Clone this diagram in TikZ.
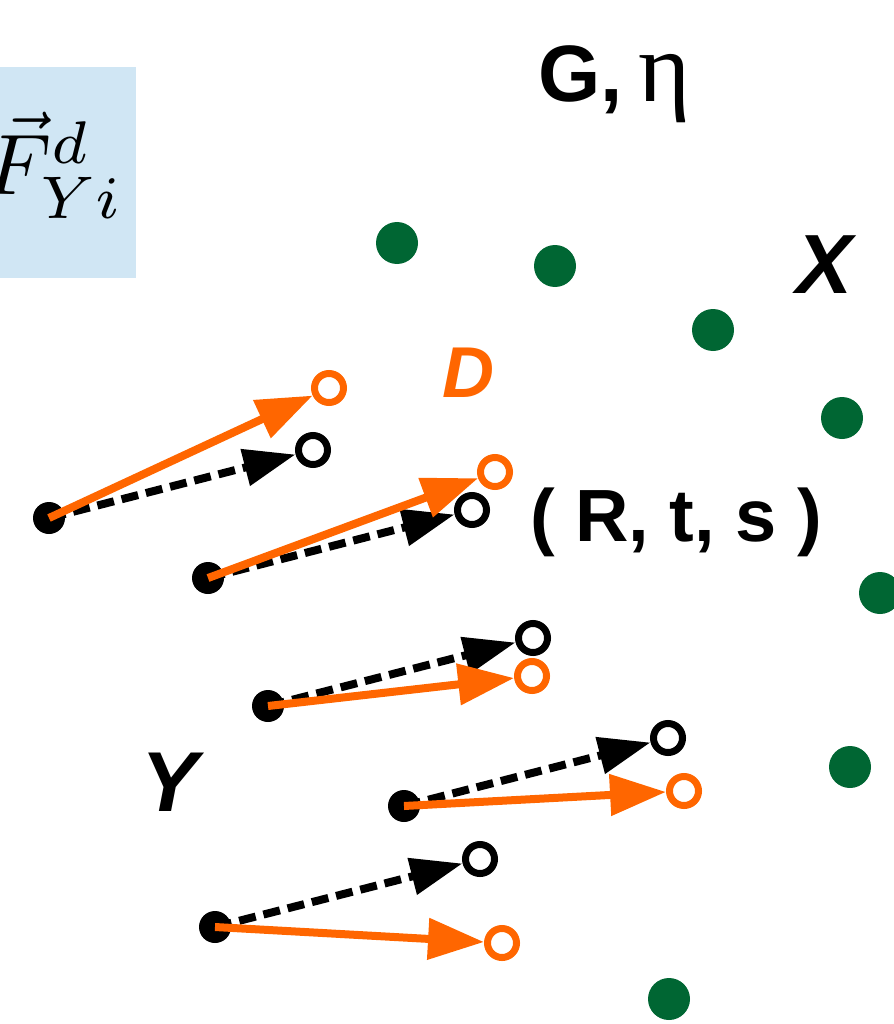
\documentclass[tikz,border=0pt]{standalone}
\usepackage{fontspec}
\setmainfont{Liberation Sans}
\newfontfamily\etafont{Liberation Serif}
\usetikzlibrary{arrows.meta}

\definecolor{dorange}{HTML}{FF6600}
\definecolor{dgreen}{HTML}{006633}
\definecolor{boxblue}{HTML}{D0E6F4}

\tikzset{
  ydot/.style={circle, fill=black, inner sep=0pt, minimum size=32pt},
  xdot/.style={circle, fill=dgreen, inner sep=0pt, minimum size=42pt},
  ring/.style={circle, draw=#1, line width=7pt, inner sep=0pt, minimum size=29pt},
  moved/.style={draw=dorange, line width=8pt, -{Triangle[length=56pt,width=40pt]}},
  fitted/.style={draw=black, line width=8pt, dash pattern=on 17pt off 8pt, -{Triangle[length=52pt,width=36pt]}},
  lbl/.style={inner sep=0pt, anchor=base west, font=\bfseries\fontsize{#1}{#1}\selectfont},
  lbl/.default=80,
  ilbl/.style={inner sep=0pt, anchor=base west, font=\bfseries\itshape\fontsize{#1}{#1}\selectfont},
  ilbl/.default=80
}

\begin{document}
\begin{tikzpicture}[x=1pt, y=-1pt]

  \useasboundingbox (0,0) rectangle (893,1024);

  % Force box, top left
  \fill[boxblue] (0,67) rectangle (136,278);
  \node[inner sep=0pt, anchor=base west, scale=8.6] (force) at (-17,195) {$\vec{F}^{d}_{Yi}$};

  % Labels
  \node[lbl=80] (geta) at (538,102) {G,\hspace{0.2em}{\etafont\mdseries\fontsize{100}{100}\selectfont η}};
  \node[ilbl=84] (xlabel) at (796,293) {X};
  \node[ilbl=72, text=dorange] (dlabel) at (442,397) {D};
  \node[ilbl=85] (ylabel) at (141,811) {Y};
  \node[lbl=74] (rts) at (530,541) {( R, t, s )};

  % Model points X
  \node[xdot] (x1) at (397,243) {};
  \node[xdot] (x2) at (555,266) {};
  \node[xdot] (x3) at (713,330) {};
  \node[xdot] (x4) at (842,418) {};
  \node[xdot] (x5) at (880,593) {};
  \node[xdot] (x6) at (850,767) {};
  \node[xdot] (x7) at (669,999) {};

  % Data points Y
  \node[ydot] (y1) at (49,518) {};
  \node[ydot] (y2) at (208,578) {};
  \node[ydot] (y3) at (268,706) {};
  \node[ydot] (y4) at (404,806) {};
  \node[ydot] (y5) at (215,927) {};

  % Transformed positions
  \node[ring=black] (t1) at (313,450) {};
  \node[ring=black] (t2) at (472,510) {};
  \node[ring=black] (t3) at (533,638) {};
  \node[ring=black] (t4) at (668,738) {};
  \node[ring=black] (t5) at (480,859) {};

  % Displaced positions D
  \node[ring=dorange] (d1) at (329,388) {};
  \node[ring=dorange] (d2) at (495,472) {};
  \node[ring=dorange] (d3) at (532,676) {};
  \node[ring=dorange] (d4) at (684,791) {};
  \node[ring=dorange] (d5) at (502,943) {};

  % Arrows
  \draw[fitted] (y1.center) -- (t1);
  \draw[moved]  (y1.center) -- (d1);
  \draw[fitted] (y2.center) -- (t2);
  \draw[moved]  (y2.center) -- (d2);
  \draw[fitted] (y3.center) -- (t3);
  \draw[moved]  (y3.center) -- (d3);
  \draw[fitted] (y4.center) -- (t4);
  \draw[moved]  (y4.center) -- (d4);
  \draw[fitted] (y5.center) -- (t5);
  \draw[moved]  (y5.center) -- (d5);

\end{tikzpicture}
\end{document}
